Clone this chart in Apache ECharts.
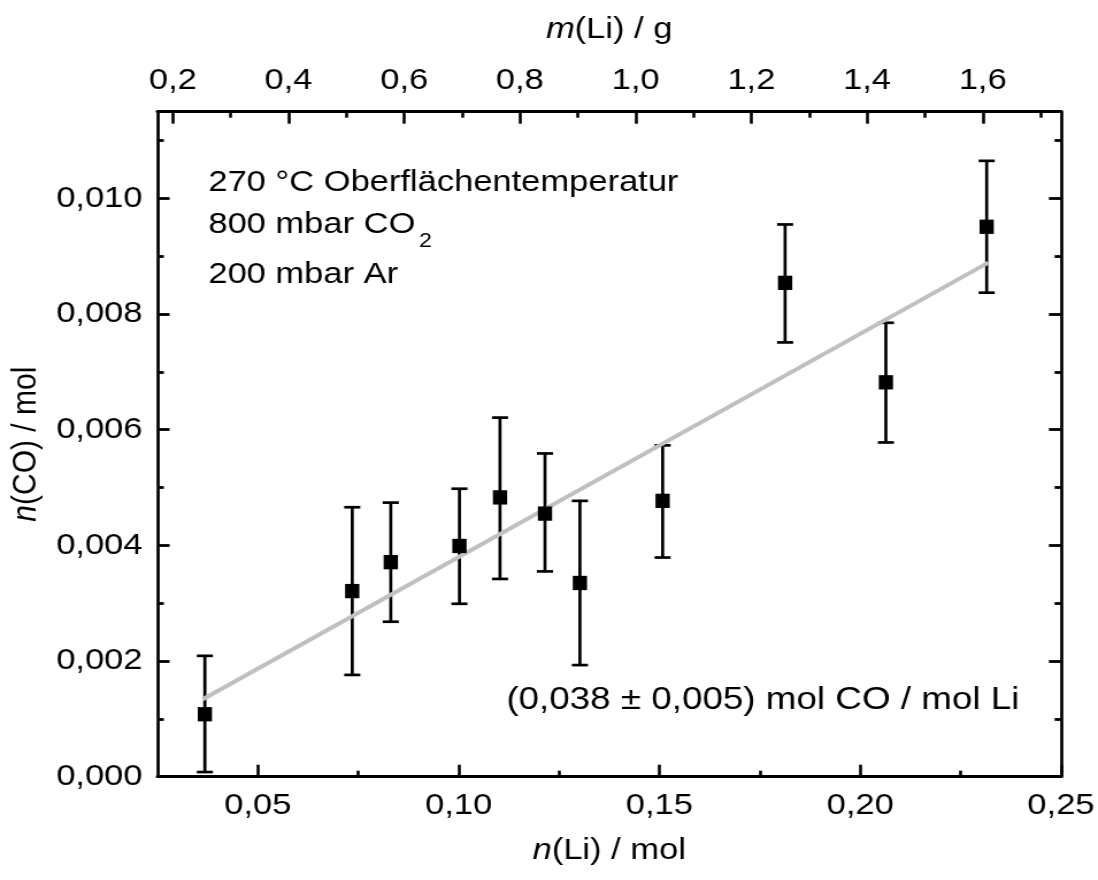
<!DOCTYPE html>
<html>
<head>
<meta charset="utf-8">
<script src="https://cdn.jsdelivr.net/npm/echarts@6/dist/echarts.min.js"></script>
<style>
  html, body { margin: 0; padding: 0; background: #fff; overflow: hidden; }
  /* the original figure is stretched horizontally, so draw narrow and stretch */
  #main { width: 955px; height: 880px; transform: scaleX(1.1497); transform-origin: 0 0; }
</style>
</head>
<body>
<div id="main"></div>
<script>
// n(Li) / mol
var nLi = [0.0368, 0.0735, 0.0831, 0.1002, 0.1103, 0.1215, 0.1302, 0.1508, 0.1813, 0.2064, 0.2315];
// n(CO) / mol
var nCO = [0.00108, 0.00321, 0.00371, 0.00399, 0.00483, 0.00455, 0.00335, 0.00477, 0.00854, 0.00682, 0.00951];
var errLow = [0.00008, 0.00176, 0.00268, 0.00299, 0.00342, 0.00355, 0.00193, 0.00379, 0.00751, 0.00578, 0.00837];
var errHigh = [0.00209, 0.00466, 0.00474, 0.00498, 0.00621, 0.00559, 0.00477, 0.00573, 0.00955, 0.00785, 0.01065];
// linear fit
var fitX = [0.0363, 0.2319];
var fitY = [0.00134, 0.00889];

var molarLi = 6.941;
var xMajor = [0.05, 0.10, 0.15, 0.20, 0.25];
var xMinor = [0.075, 0.125, 0.175, 0.225];
var mMajor = [0.2, 0.4, 0.6, 0.8, 1.0, 1.2, 1.4, 1.6];
var mMinor = [0.3, 0.5, 0.7, 0.9, 1.1, 1.3, 1.5, 1.7];
var yMajor = [0, 0.002, 0.004, 0.006, 0.008, 0.010];
var yMinor = [0.001, 0.003, 0.005, 0.007, 0.009, 0.011];

var FONT = "'Liberation Sans', Arial, sans-serif";
var FS = 30;

var points = nLi.map(function (x, i) { return [x, nCO[i]]; });
var errData = nLi.map(function (x, i) { return [x, errLow[i], errHigh[i]]; });
var fitData = fitX.map(function (x, i) { return [x, fitY[i]]; });

function comma(digits) {
  return function (v) { return v.toFixed(digits).replace('.', ','); };
}

function majorX(pos, vals, min, max, digits, name, gap) {
  return {
    type: 'value', position: pos, min: min, max: max,
    name: name, nameLocation: 'middle', nameGap: gap,
    nameTextStyle: { fontSize: FS, fontFamily: FONT, color: '#000',
      rich: { i: { fontSize: FS, fontFamily: FONT, fontStyle: 'italic', color: '#000' } } },
    axisLine: { show: true, onZero: false, lineStyle: { color: '#000', width: 3 } },
    axisTick: { show: true, inside: true, length: 12, customValues: vals, lineStyle: { color: '#000', width: 2.6 } },
    axisLabel: { show: true, customValues: vals, margin: pos === 'top' ? 16 : 14,
      fontSize: FS, fontFamily: FONT, color: '#000', formatter: comma(digits) },
    splitLine: { show: false }
  };
}
function minorX(pos, vals, min, max) {
  return {
    type: 'value', position: pos, min: min, max: max,
    axisLine: { show: false, onZero: false },
    axisTick: { show: true, inside: true, length: 6, customValues: vals, lineStyle: { color: '#000', width: 2.6 } },
    axisLabel: { show: false },
    splitLine: { show: false }
  };
}
function yAxisDef(pos, vals, major, labels) {
  return {
    type: 'value', position: pos, min: 0, max: 0.0115,
    name: labels ? '{i|n}(CO) / mol' : '', nameLocation: 'middle', nameGap: 88,
    nameTextStyle: { fontSize: FS, fontFamily: FONT, color: '#000',
      rich: { i: { fontSize: FS, fontFamily: FONT, fontStyle: 'italic', color: '#000' } } },
    axisLine: { show: major, onZero: false, lineStyle: { color: '#000', width: 2.7 } },
    axisTick: { show: true, inside: true, length: major ? 10.5 : 5.5, customValues: vals,
      lineStyle: { color: '#000', width: 2.8 } },
    axisLabel: { show: labels, customValues: vals, margin: 13,
      fontSize: FS, fontFamily: FONT, color: '#000', formatter: comma(3) },
    splitLine: { show: false }
  };
}

var myChart = echarts.init(document.getElementById('main'), null, { renderer: 'canvas' });
myChart.setOption({
  animation: false,
  backgroundColor: '#fff',
  grid: { left: 131.3, right: 30.2, top: 111.7, bottom: 103.3, containLabel: false },
  xAxis: [
    majorX('bottom', xMajor, 0.025, 0.25, 2, '{i|n}(Li) / mol', 59),
    minorX('bottom', xMinor, 0.025, 0.25),
    majorX('top', mMajor, 0.025 * molarLi, 0.25 * molarLi, 1, '{i|m}(Li) / g', 67),
    minorX('top', mMinor, 0.025 * molarLi, 0.25 * molarLi)
  ],
  yAxis: [
    yAxisDef('left', yMajor, true, true),
    yAxisDef('left', yMinor, false, false),
    yAxisDef('right', yMajor, true, false),
    yAxisDef('right', yMinor, false, false)
  ],
  graphic: [
    { type: 'text', x: 181.2, y: 182.5, z: 10,
      style: { text: '270 °C Oberflächentemperatur', fontSize: FS, fontFamily: FONT, fill: '#000', align: 'left', verticalAlign: 'middle' } },
    { type: 'text', x: 181.2, y: 225, z: 10,
      style: { text: '800 mbar CO', fontSize: FS, fontFamily: FONT, fill: '#000', align: 'left', verticalAlign: 'middle' } },
    { type: 'text', x: 364.4, y: 241, z: 10,
      style: { text: '2', fontSize: 20, fontFamily: FONT, fill: '#000', align: 'left', verticalAlign: 'middle' } },
    { type: 'text', x: 181.2, y: 275, z: 10,
      style: { text: '200 mbar Ar', fontSize: FS, fontFamily: FONT, fill: '#000', align: 'left', verticalAlign: 'middle' } },
    { type: 'text', x: 886.6, y: 700, z: 10,
      style: { text: '(0,038 ± 0,005) mol CO / mol Li', fontSize: 32, fontFamily: FONT, fill: '#000', align: 'right', verticalAlign: 'middle' } }
  ],
  series: [
    {
      name: 'Fehler',
      type: 'custom',
      xAxisIndex: 0, yAxisIndex: 0,
      z: 2,
      data: errData,
      renderItem: function (params, api) {
        var x = api.value(0);
        var top = api.coord([x, api.value(2)]);
        var bot = api.coord([x, api.value(1)]);
        var hw = 7;
        var st = { stroke: '#000', lineWidth: 2.7 };
        return {
          type: 'group',
          children: [
            { type: 'line', shape: { x1: top[0], y1: top[1], x2: bot[0], y2: bot[1] }, style: st },
            { type: 'line', shape: { x1: top[0] - hw, y1: top[1], x2: top[0] + hw, y2: top[1] }, style: st },
            { type: 'line', shape: { x1: bot[0] - hw, y1: bot[1], x2: bot[0] + hw, y2: bot[1] }, style: st }
          ]
        };
      }
    },
    {
      name: 'Fit',
      type: 'line',
      xAxisIndex: 0, yAxisIndex: 0,
      z: 3,
      data: fitData,
      showSymbol: false,
      symbol: 'none',
      lineStyle: { color: '#c0c0c0', width: 4 }
    },
    {
      name: 'n(CO)',
      type: 'scatter',
      xAxisIndex: 0, yAxisIndex: 0,
      z: 4,
      data: points,
      symbol: 'rect',
      symbolSize: [12.4, 14.3],
      itemStyle: { color: '#000', opacity: 1 }
    }
  ]
});
</script>
</body>
</html>
